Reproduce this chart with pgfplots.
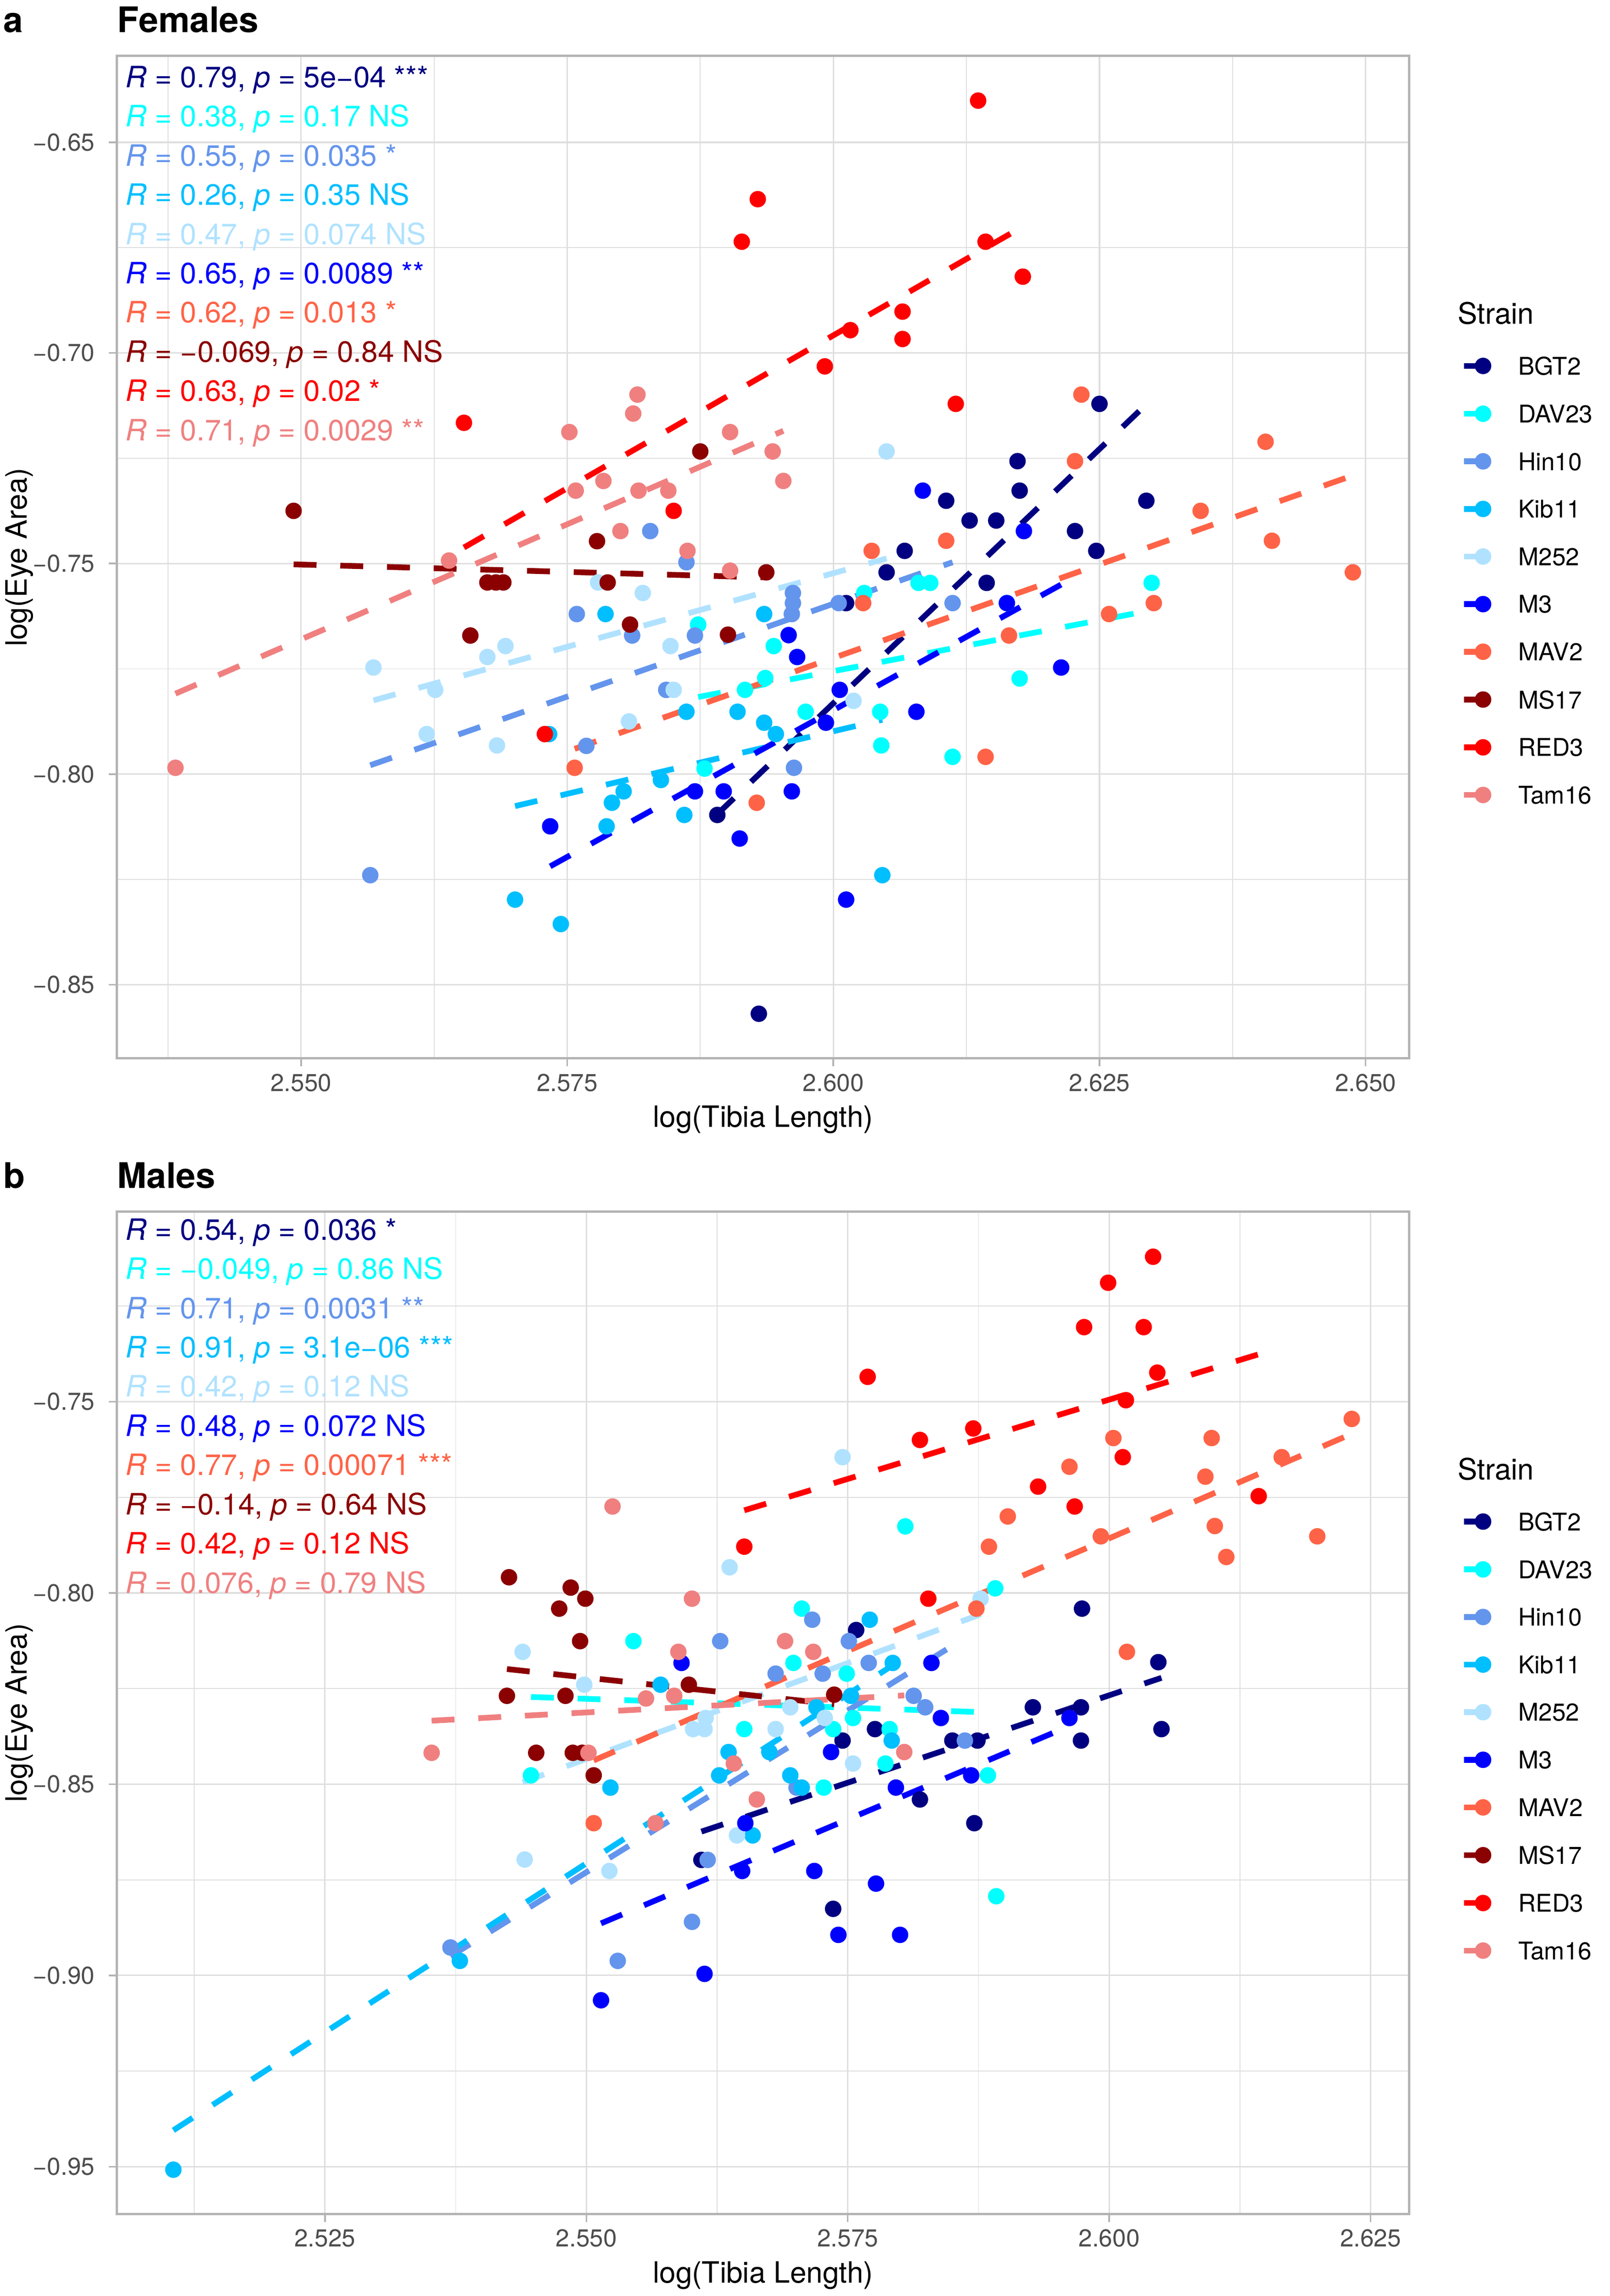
\documentclass[border=0pt]{standalone}
\usepackage{fontspec}
\setmainfont{TeX Gyre Heros}
\usepackage{pgfplots}
\pgfplotsset{compat=1.18}
\definecolor{cBGT2}{HTML}{000080}
\definecolor{cDAV23}{HTML}{00FFFF}
\definecolor{cHin10}{HTML}{6495ED}
\definecolor{cKib11}{HTML}{00BFFF}
\definecolor{cM252}{HTML}{B0E2FF}
\definecolor{cM3}{HTML}{0000FF}
\definecolor{cMAV2}{HTML}{FF6347}
\definecolor{cMS17}{HTML}{8B0000}
\definecolor{cRED3}{HTML}{FF0000}
\definecolor{cTam16}{HTML}{F08080}
\definecolor{gbord}{HTML}{B3B3B3}
\definecolor{ggrid}{HTML}{DEDEDE}
\definecolor{gtext}{HTML}{4D4D4D}
\pgfplotsset{
 panel/.style={
   scale only axis, width=440pt, height=341.2pt, anchor=north west,
   axis line style={draw=gbord, line width=0.8pt},
   tick pos=left, tick align=outside,
   major tick length=2.75pt, minor tick length=0pt,
   tick style={draw=gbord, line width=0.55pt},
   grid=both,
   major grid style={draw=ggrid, line width=0.5pt},
   minor grid style={draw=ggrid, line width=0.28pt},
   tick label style={font=\fontsize{8.3}{10}\selectfont, text=gtext, inner sep=0pt},
   xticklabel style={anchor=base, yshift=-8.4pt},
   yticklabel style={anchor=east, xshift=-4.6pt},
   legend style={at={(rel axis cs:1,1)}, anchor=north west, xshift=17.45pt, yshift=-102.2pt,
     draw=none, fill=none, inner sep=0pt, row sep=10.15pt, column sep=9.2pt,
     font=\fontsize{8.3}{10}\selectfont, nodes={inner sep=0pt, text depth=0pt}},
   legend cell align=left,
   legend image code/.code={\draw[##1, line width=1.95pt] (0pt,0pt) -- (6.5pt,0pt); \fill[##1] (6.5pt,0pt) circle (2.6pt);},
 },
 pts/.style={only marks, mark=*, mark size=2.6pt, color=#1, mark options={draw=none, fill=#1}, forget plot},
 fit/.style={no marks, draw=#1, line width=1.95pt, dash pattern=on 7.8pt off 8.1pt, forget plot},
}
\newcommand{\ann}[4]{\node[anchor=base west, inner sep=0pt, text=#1, font=\fontsize{10}{12}\selectfont, xshift=2.8pt, yshift={-(#2+#3*13.35)*1pt}] at (rel axis cs:0,1) {#4};}
\newcommand{\legendall}{%
 \addlegendimage{color=cBGT2}\addlegendentry{BGT2}
 \addlegendimage{color=cDAV23}\addlegendentry{DAV23}
 \addlegendimage{color=cHin10}\addlegendentry{Hin10}
 \addlegendimage{color=cKib11}\addlegendentry{Kib11}
 \addlegendimage{color=cM252}\addlegendentry{M252}
 \addlegendimage{color=cM3}\addlegendentry{M3}
 \addlegendimage{color=cMAV2}\addlegendentry{MAV2}
 \addlegendimage{color=cMS17}\addlegendentry{MS17}
 \addlegendimage{color=cRED3}\addlegendentry{RED3}
 \addlegendimage{color=cTam16}\addlegendentry{Tam16}}
\begin{document}
\begin{tikzpicture}
\useasboundingbox (0,0) rectangle (548pt,-781.5pt);
% ---------------- panel a ----------------
\node[anchor=base west, inner sep=0pt, font=\fontsize{12}{14}\selectfont\bfseries] at (1pt,-11pt) {a};
\node[anchor=base west, inner sep=0pt, font=\fontsize{12}{14}\selectfont\bfseries] at (39.8pt,-11pt) {Females};
\begin{axis}[panel, name=pa, at={(39.8pt,-19.05pt)},
  xmin=2.5327, xmax=2.6541, ymin=-0.8675, ymax=-0.6295,
  xtick={2.55,2.575,2.6,2.625,2.65}, xticklabels={2.550,2.575,2.600,2.625,2.650},
  minor xtick={2.5375,2.5625,2.5875,2.6125,2.6375},
  ytick={-0.85,-0.8,-0.75,-0.7,-0.65}, yticklabels={−0.85,−0.80,−0.75,−0.70,−0.65},
  minor ytick={-0.825,-0.775,-0.725,-0.675}]
\addplot[pts=cBGT2] coordinates {(2.6250,-0.7121) (2.6173,-0.7257) (2.6175,-0.7327) (2.6106,-0.7351) (2.6294,-0.7351) (2.6128,-0.7398) (2.6153,-0.7398) (2.6227,-0.7423) (2.6067,-0.7470) (2.6247,-0.7470) (2.6050,-0.7521) (2.6144,-0.7546) (2.6012,-0.7594) (2.5891,-0.8097) (2.5930,-0.8569)};
\addplot[pts=cDAV23] coordinates {(2.5873,-0.7645) (2.5944,-0.7696) (2.5917,-0.7800) (2.5936,-0.7772) (2.5879,-0.7987) (2.6029,-0.7570) (2.6080,-0.7546) (2.6091,-0.7546) (2.6163,-0.7594) (2.6299,-0.7546) (2.6175,-0.7773) (2.5974,-0.7852) (2.6044,-0.7852) (2.6045,-0.7932) (2.6112,-0.7959)};
\addplot[pts=cHin10] coordinates {(2.5828,-0.7423) (2.5862,-0.7497) (2.5759,-0.7620) (2.5811,-0.7671) (2.5870,-0.7671) (2.5843,-0.7800) (2.5768,-0.7933) (2.5565,-0.8240) (2.5962,-0.7570) (2.5962,-0.7594) (2.5961,-0.7620) (2.5963,-0.7985) (2.6005,-0.7594) (2.6112,-0.7594)};
\addplot[pts=cKib11] coordinates {(2.5786,-0.7620) (2.5935,-0.7620) (2.5733,-0.7905) (2.5862,-0.7852) (2.5910,-0.7852) (2.5935,-0.7878) (2.5946,-0.7905) (2.5838,-0.8014) (2.5803,-0.8041) (2.5792,-0.8068) (2.5860,-0.8097) (2.5787,-0.8124) (2.5701,-0.8298) (2.5744,-0.8356) (2.6046,-0.8240)};
\addplot[pts=cM252] coordinates {(2.6050,-0.7234) (2.5779,-0.7545) (2.5821,-0.7570) (2.5692,-0.7696) (2.5675,-0.7722) (2.5568,-0.7747) (2.5847,-0.7696) (2.5626,-0.7800) (2.5850,-0.7800) (2.5618,-0.7905) (2.5684,-0.7932) (2.5808,-0.7875) (2.6019,-0.7826)};
\addplot[pts=cM3] coordinates {(2.5734,-0.8124) (2.5870,-0.8041) (2.5897,-0.8041) (2.5912,-0.8153) (2.5958,-0.7670) (2.5961,-0.8041) (2.5966,-0.7722) (2.6006,-0.7800) (2.5993,-0.7878) (2.6078,-0.7852) (2.6214,-0.7747) (2.6012,-0.8298) (2.6163,-0.7594) (2.6084,-0.7327) (2.6179,-0.7423)};
\addplot[pts=cMAV2] coordinates {(2.6233,-0.7099) (2.6227,-0.7257) (2.6406,-0.7211) (2.6345,-0.7375) (2.6412,-0.7446) (2.6106,-0.7446) (2.6036,-0.7470) (2.6488,-0.7521) (2.6028,-0.7594) (2.6301,-0.7594) (2.6259,-0.7620) (2.6165,-0.7671) (2.6143,-0.7959) (2.5757,-0.7985) (2.5928,-0.8068)};
\addplot[pts=cMS17] coordinates {(2.5493,-0.7375) (2.5875,-0.7234) (2.5778,-0.7447) (2.5937,-0.7521) (2.5675,-0.7545) (2.5683,-0.7545) (2.5690,-0.7545) (2.5788,-0.7545) (2.5659,-0.7671) (2.5809,-0.7645) (2.5901,-0.7669)};
\addplot[pts=cRED3] coordinates {(2.5929,-0.6635) (2.5914,-0.6736) (2.5653,-0.7166) (2.5850,-0.7375) (2.6136,-0.6401) (2.6143,-0.6736) (2.6178,-0.6819) (2.6065,-0.6902) (2.6016,-0.6946) (2.6065,-0.6967) (2.5992,-0.7032) (2.6115,-0.7121) (2.5729,-0.7905)};
\addplot[pts=cTam16] coordinates {(2.5816,-0.7099) (2.5812,-0.7144) (2.5752,-0.7188) (2.5903,-0.7188) (2.5943,-0.7234) (2.5953,-0.7304) (2.5784,-0.7304) (2.5758,-0.7327) (2.5817,-0.7327) (2.5845,-0.7327) (2.5800,-0.7423) (2.5863,-0.7470) (2.5639,-0.7493) (2.5903,-0.7517) (2.5382,-0.7985)};
\addplot[fit=cBGT2] coordinates {(2.5891,-0.8095) (2.6294,-0.7122)};
\addplot[fit=cDAV23] coordinates {(2.5873,-0.7817) (2.6299,-0.7611)};
\addplot[fit=cHin10] coordinates {(2.5565,-0.7979) (2.6112,-0.7497)};
\addplot[fit=cKib11] coordinates {(2.5701,-0.8076) (2.6046,-0.7871)};
\addplot[fit=cM252] coordinates {(2.5568,-0.7825) (2.6050,-0.7488)};
\addplot[fit=cM3] coordinates {(2.5734,-0.8219) (2.6214,-0.7550)};
\addplot[fit=cMAV2] coordinates {(2.5757,-0.7940) (2.6488,-0.7291)};
\addplot[fit=cMS17] coordinates {(2.5493,-0.7502) (2.5937,-0.7533)};
\addplot[fit=cRED3] coordinates {(2.5653,-0.7462) (2.6178,-0.6700)};
\addplot[fit=cTam16] coordinates {(2.5382,-0.7809) (2.5953,-0.7185)};
\legendall
\ann{cBGT2}{10.7}{0}{\textit{R} = 0.79, \textit{p} = 5e−04 ***}
\ann{cDAV23}{10.7}{1}{\textit{R} = 0.38, \textit{p} = 0.17 NS}
\ann{cHin10}{10.7}{2}{\textit{R} = 0.55, \textit{p} = 0.035 *}
\ann{cKib11}{10.7}{3}{\textit{R} = 0.26, \textit{p} = 0.35 NS}
\ann{cM252}{10.7}{4}{\textit{R} = 0.47, \textit{p} = 0.074 NS}
\ann{cM3}{10.7}{5}{\textit{R} = 0.65, \textit{p} = 0.0089 **}
\ann{cMAV2}{10.7}{6}{\textit{R} = 0.62, \textit{p} = 0.013 *}
\ann{cMS17}{10.7}{7}{\textit{R} = −0.069, \textit{p} = 0.84 NS}
\ann{cRED3}{10.7}{8}{\textit{R} = 0.63, \textit{p} = 0.02 *}
\ann{cTam16}{10.7}{9}{\textit{R} = 0.71, \textit{p} = 0.0029 **}
\end{axis}
\node[rotate=90, anchor=base, inner sep=0pt, font=\fontsize{10}{12}\selectfont] at (9.2pt,-189.65pt) {log(Eye Area)};
\node[anchor=base, inner sep=0pt, font=\fontsize{10}{12}\selectfont] at (259.8pt,-383.6pt) {log(Tibia Length)};
\node[anchor=base west, inner sep=0pt, font=\fontsize{10}{12}\selectfont] at (496.05pt,-110.25pt) {Strain};
% ---------------- panel b ----------------
\node[anchor=base west, inner sep=0pt, font=\fontsize{12}{14}\selectfont\bfseries] at (1pt,-404.35pt) {b};
\node[anchor=base west, inner sep=0pt, font=\fontsize{12}{14}\selectfont\bfseries] at (39.8pt,-404.35pt) {Males};
\begin{axis}[panel, name=pb, at={(39.8pt,-412.4pt)},
  xmin=2.5051, xmax=2.6287, ymin=-0.9624, ymax=-0.7003,
  xtick={2.525,2.55,2.575,2.6,2.625}, xticklabels={2.525,2.550,2.575,2.600,2.625},
  minor xtick={2.5125,2.5375,2.5625,2.5875,2.6125},
  ytick={-0.95,-0.9,-0.85,-0.8,-0.75}, yticklabels={−0.95,−0.90,−0.85,−0.80,−0.75},
  minor ytick={-0.925,-0.875,-0.825,-0.775,-0.725}]
\addplot[pts=cBGT2] coordinates {(2.5974,-0.8041) (2.5758,-0.8097) (2.5776,-0.8356) (2.5745,-0.8386) (2.5850,-0.8386) (2.5874,-0.8386) (2.5927,-0.8299) (2.5973,-0.8299) (2.5973,-0.8386) (2.5819,-0.8540) (2.5871,-0.8602) (2.5610,-0.8698) (2.6047,-0.8181) (2.6050,-0.8356) (2.5736,-0.8826)};
\addplot[pts=cDAV23] coordinates {(2.5545,-0.8126) (2.5447,-0.8477) (2.5805,-0.7826) (2.5891,-0.7988) (2.5706,-0.8041) (2.5698,-0.8183) (2.5749,-0.8211) (2.5755,-0.8327) (2.5651,-0.8356) (2.5736,-0.8356) (2.5790,-0.8356) (2.5786,-0.8446) (2.5884,-0.8477) (2.5727,-0.8509) (2.5892,-0.8793)};
\addplot[pts=cHin10] coordinates {(2.5716,-0.8070) (2.5628,-0.8126) (2.5751,-0.8126) (2.5770,-0.8183) (2.5681,-0.8211) (2.5726,-0.8211) (2.5813,-0.8269) (2.5824,-0.8299) (2.5862,-0.8386) (2.5701,-0.8509) (2.5616,-0.8698) (2.5601,-0.8860) (2.5370,-0.8927) (2.5530,-0.8962)};
\addplot[pts=cKib11] coordinates {(2.5571,-0.8240) (2.5523,-0.8509) (2.5771,-0.8070) (2.5793,-0.8183) (2.5753,-0.8269) (2.5720,-0.8299) (2.5792,-0.8386) (2.5636,-0.8416) (2.5675,-0.8416) (2.5627,-0.8477) (2.5695,-0.8477) (2.5706,-0.8509) (2.5659,-0.8634) (2.5105,-0.9508) (2.5379,-0.8962)};
\addplot[pts=cM252] coordinates {(2.5439,-0.8154) (2.5498,-0.8240) (2.5441,-0.8697) (2.5522,-0.8727) (2.5745,-0.7645) (2.5637,-0.7933) (2.5877,-0.8015) (2.5695,-0.8299) (2.5614,-0.8327) (2.5602,-0.8356) (2.5613,-0.8356) (2.5681,-0.8356) (2.5728,-0.8327) (2.5755,-0.8446) (2.5644,-0.8634)};
\addplot[pts=cM3] coordinates {(2.5591,-0.8183) (2.5830,-0.8183) (2.5839,-0.8327) (2.5962,-0.8327) (2.5734,-0.8416) (2.5868,-0.8477) (2.5796,-0.8509) (2.5652,-0.8602) (2.5649,-0.8727) (2.5718,-0.8727) (2.5777,-0.8760) (2.5741,-0.8894) (2.5800,-0.8894) (2.5613,-0.8996) (2.5514,-0.9065)};
\addplot[pts=cMAV2] coordinates {(2.5507,-0.8602) (2.5962,-0.7670) (2.5903,-0.7800) (2.5885,-0.7879) (2.5992,-0.7852) (2.5873,-0.8041) (2.6017,-0.8154) (2.6232,-0.7545) (2.6004,-0.7595) (2.6098,-0.7595) (2.6165,-0.7645) (2.6092,-0.7696) (2.6101,-0.7825) (2.6199,-0.7852) (2.6112,-0.7906)};
\addplot[pts=cMS17] coordinates {(2.5426,-0.7959) (2.5485,-0.7986) (2.5499,-0.8015) (2.5474,-0.8041) (2.5494,-0.8126) (2.5424,-0.8269) (2.5480,-0.8269) (2.5452,-0.8418) (2.5487,-0.8418) (2.5496,-0.8418) (2.5507,-0.8477) (2.5598,-0.8240) (2.5737,-0.8266)};
\addplot[pts=cRED3] coordinates {(2.5769,-0.7435) (2.5651,-0.7879) (2.5932,-0.7722) (2.5967,-0.7774) (2.6013,-0.7645) (2.5827,-0.8015) (2.6042,-0.7121) (2.5999,-0.7189) (2.5976,-0.7305) (2.6033,-0.7305) (2.6046,-0.7424) (2.6016,-0.7496) (2.5870,-0.7570) (2.5819,-0.7600) (2.6143,-0.7747)};
\addplot[pts=cTam16] coordinates {(2.5525,-0.7774) (2.5557,-0.8276) (2.5352,-0.8418) (2.5502,-0.8418) (2.5566,-0.8602) (2.5601,-0.8015) (2.5690,-0.8126) (2.5588,-0.8154) (2.5717,-0.8154) (2.5584,-0.8269) (2.5804,-0.8416) (2.5641,-0.8446) (2.5663,-0.8540)};
\addplot[fit=cBGT2] coordinates {(2.5610,-0.8624) (2.6050,-0.8222)};
\addplot[fit=cDAV23] coordinates {(2.5447,-0.8272) (2.5892,-0.8313)};
\addplot[fit=cHin10] coordinates {(2.5370,-0.8950) (2.5862,-0.8118)};
\addplot[fit=cKib11] coordinates {(2.5105,-0.9405) (2.5793,-0.8189)};
\addplot[fit=cM252] coordinates {(2.5439,-0.8495) (2.5877,-0.8056)};
\addplot[fit=cM3] coordinates {(2.5514,-0.8864) (2.5962,-0.8348)};
\addplot[fit=cMAV2] coordinates {(2.5507,-0.8438) (2.6232,-0.7584)};
\addplot[fit=cMS17] coordinates {(2.5424,-0.8199) (2.5737,-0.8291)};
\addplot[fit=cRED3] coordinates {(2.5651,-0.7784) (2.6143,-0.7376)};
\addplot[fit=cTam16] coordinates {(2.5352,-0.8334) (2.5804,-0.8268)};
\legendall
\ann{cBGT2}{9.65}{0}{\textit{R} = 0.54, \textit{p} = 0.036 *}
\ann{cDAV23}{9.65}{1}{\textit{R} = −0.049, \textit{p} = 0.86 NS}
\ann{cHin10}{9.65}{2}{\textit{R} = 0.71, \textit{p} = 0.0031 **}
\ann{cKib11}{9.65}{3}{\textit{R} = 0.91, \textit{p} = 3.1e−06 ***}
\ann{cM252}{9.65}{4}{\textit{R} = 0.42, \textit{p} = 0.12 NS}
\ann{cM3}{9.65}{5}{\textit{R} = 0.48, \textit{p} = 0.072 NS}
\ann{cMAV2}{9.65}{6}{\textit{R} = 0.77, \textit{p} = 0.00071 ***}
\ann{cMS17}{9.65}{7}{\textit{R} = −0.14, \textit{p} = 0.64 NS}
\ann{cRED3}{9.65}{8}{\textit{R} = 0.42, \textit{p} = 0.12 NS}
\ann{cTam16}{9.65}{9}{\textit{R} = 0.076, \textit{p} = 0.79 NS}
\end{axis}
\node[rotate=90, anchor=base, inner sep=0pt, font=\fontsize{10}{12}\selectfont] at (9.2pt,-583pt) {log(Eye Area)};
\node[anchor=base, inner sep=0pt, font=\fontsize{10}{12}\selectfont] at (259.8pt,-777pt) {log(Tibia Length)};
\node[anchor=base west, inner sep=0pt, font=\fontsize{10}{12}\selectfont] at (496.05pt,-503.6pt) {Strain};
\end{tikzpicture}
\end{document}
